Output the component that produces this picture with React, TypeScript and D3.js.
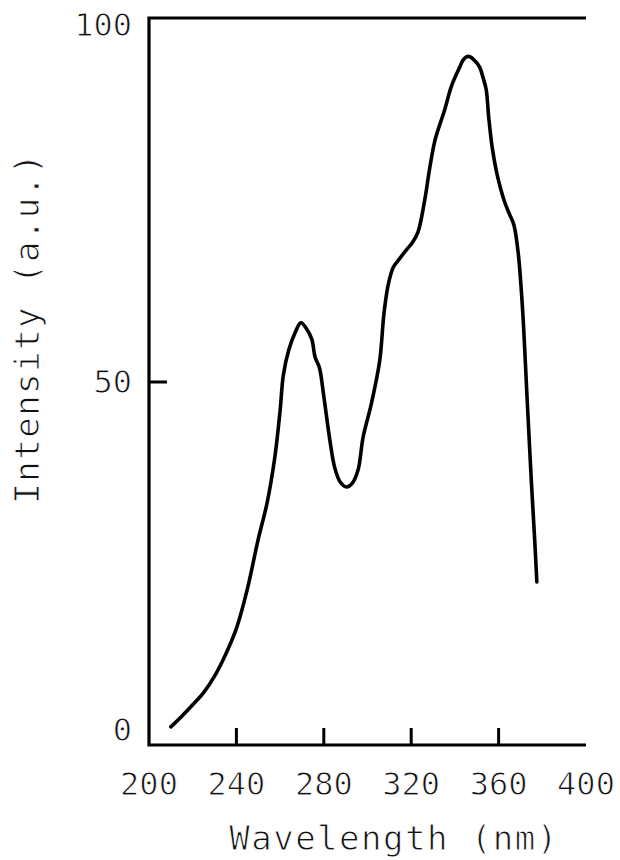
import React from "react";
import * as d3 from "d3";

const wavelength = [
  210, 215, 220, 225, 230, 235, 240, 245, 250, 254, 257.6, 260, 261.5, 264, 267, 269.5,
  272, 274.5, 276, 278, 280, 282.7, 285, 287.5, 290.4, 293, 295.7, 298, 301.8, 305.6,
  307.5, 309.4, 311.7, 314, 317.8, 320.5, 323.1, 326.2, 328.5, 331, 335.3, 338.5, 342.2,
  344, 346, 348.5, 351.3, 353, 354.3, 355.5, 357, 359, 361, 363, 365, 367, 369,
  371, 373, 375, 376.5, 377.5,
];
const intensity = [
  1.7, 3.2, 4.8, 6.5, 8.8, 11.8, 15.5, 21, 28, 33, 39.5, 46, 51, 54.5, 57, 58.3,
  57.5, 56, 53.5, 52, 48, 42, 38, 36, 35.3, 35.8, 37.7, 42.3, 47, 53,
  59.5, 63.5, 66, 67, 68.5, 69.5, 71, 75.5, 80, 84, 88.1, 91.5, 94.1,
  95.2, 95.6, 95.2, 94.1, 92.5, 91, 87, 83, 79.5, 77, 75, 73.5, 72, 68,
  60, 48, 36, 28, 22,
];
const xTicks = [200, 240, 280, 320, 360, 400];
const yTicks = [0, 50, 100];
const xTitle = "Wavelength (nm)";
const yTitle = "Intensity (a.u.)";

export default function App() {
  const W = 620, H = 860;
  const x = d3.scaleLinear().domain([200, 400]).range([149, 586]);
  const y = d3.scaleLinear().domain([0, 100]).range([739, 25]);
  const axisY = 745;
  const topY = 18;
  const pts: [number, number][] = wavelength.map((w, i) => [w, intensity[i]]);
  const line = d3
    .line<[number, number]>()
    .x((d) => x(d[0]))
    .y((d) => y(d[1]))
    .curve(d3.curveCatmullRom.alpha(0.5));
  const font = "'DejaVu Sans Mono', 'Liberation Mono', monospace";
  const textStyle = { stroke: "#fff", strokeWidth: 0.9 };
  return (
    <svg
      width={W}
      height={H}
      style={{ position: "absolute", left: 0, top: 0, background: "#fff" }}
    >
      <path
        d={`M${x(400)},${topY} L${x(200)},${topY} L${x(200)},${axisY} L${x(400)},${axisY}`}
        fill="none"
        stroke="#000"
        strokeWidth={3.2}
      />
      {xTicks.slice(1, -1).map((t) => (
        <line key={t} x1={x(t)} x2={x(t)} y1={axisY} y2={axisY - 17} stroke="#000" strokeWidth={3} />
      ))}
      {xTicks.map((t) => (
        <text key={"xl" + t} x={x(t)} y={795} textAnchor="middle" fontFamily={font} fontSize={32} fill="#111" style={textStyle}>
          {t}
        </text>
      ))}
      <line x1={x(200)} x2={x(200) + 18} y1={y(50)} y2={y(50)} stroke="#000" strokeWidth={3} />
      {yTicks.map((t) => (
        <text
          key={"yl" + t}
          x={132}
          y={t === 0 ? 730 : y(t)}
          textAnchor="end"
          dominantBaseline="central"
          fontFamily={font}
          fontSize={32}
          fill="#111"
          style={textStyle}
        >
          {t}
        </text>
      ))}
      <path d={line(pts) || ""} fill="none" stroke="#000" strokeWidth={3.6} strokeLinejoin="round" strokeLinecap="round" />
      <text x={394} y={850} textAnchor="middle" fontFamily={font} fontSize={34} letterSpacing={1.5} fill="#111" style={textStyle}>
        {xTitle}
      </text>
      <text
        transform={`translate(27,328) rotate(-90)`}
        textAnchor="middle"
        dominantBaseline="central"
        fontFamily={font}
        fontSize={34}
        letterSpacing={1.5}
        fill="#111"
        style={textStyle}
      >
        {yTitle}
      </text>
    </svg>
  );
}
